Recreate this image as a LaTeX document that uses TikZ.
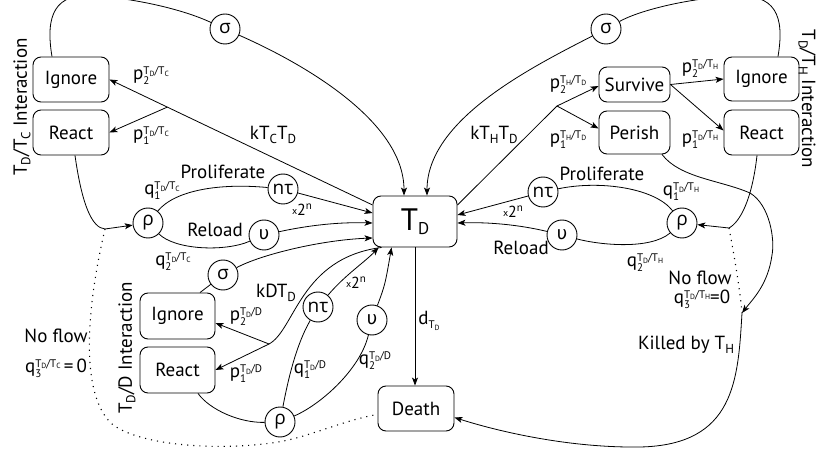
\documentclass[tikz,border=0pt]{standalone}
\usepackage{fontspec}
\setmainfont{PT Sans}
\newfontfamily\grk{Open Sans}
\newfontfamily\grku{DejaVu Sans}
\usetikzlibrary{arrows.meta,calc}
\newcommand\fs[1]{\fontsize{#1}{#1}\selectfont}
\newcommand\tsub[1]{\raisebox{-1.4pt}{\fs{7.5}#1}}
\newcommand\TT[1]{T\tsub{#1}}
\newcommand\pq[3]{#1\rlap{\raisebox{-5pt}{\fs{11}#2}}\raisebox{5pt}{\fs{11}#3}}
\newcommand\msub[1]{\raisebox{-3.5pt}{\fs{13}#1}}
\newcommand\xtn{\raisebox{1.5pt}{\fs{10}x}{\fs{16}2}\raisebox{6pt}{\fs{11}n}}
\begin{document}
\begin{tikzpicture}[x=1pt,y=-1pt,font=\fs{19},
  ln/.style={line width=0.8pt},
  arr/.style={line width=0.8pt,-{Stealth[length=8pt,width=6pt,inset=2pt]}},
  dotl/.style={line width=1.1pt,dash pattern=on 1.1pt off 5pt},
  box/.style={draw,line width=0.9pt,rounded corners=8pt,inner sep=0pt},
  circ/.style={draw,circle,line width=0.9pt,minimum size=30pt,inner sep=0pt,font=\fs{19}\grk},
  ucirc/.style={circ,font=\fs{18}\grku},
  lab/.style={inner sep=0pt}]
\useasboundingbox (0,0) rectangle (817,457);
\clip (0,0) rectangle (817,457);
% boxes
\node[box,minimum width=84pt,minimum height=51pt] (TD) at (415,221.5) {\fs{31}T\raisebox{-4pt}{\fs{17}D}};
\node[box,minimum width=76pt,minimum height=45pt] (De) at (416,408.5) {Death};
\node[box,minimum width=76pt,minimum height=45pt] (IgL) at (71,79.5) {Ignore};
\node[box,minimum width=76pt,minimum height=45pt] (ReL) at (71,132.5) {React};
\node[box,minimum width=75pt,minimum height=46pt] (IgD) at (177.5,316) {Ignore};
\node[box,minimum width=75pt,minimum height=46pt] (ReD) at (177.5,370) {React};
\node[box,minimum width=71pt,minimum height=35pt] (Su) at (634.5,84.5) {Survive};
\node[box,minimum width=71pt,minimum height=43pt] (Pe) at (634.5,132.5) {Perish};
\node[box,minimum width=75pt,minimum height=44pt] (IgR) at (761.5,79) {Ignore};
\node[box,minimum width=75pt,minimum height=45pt] (ReR) at (761.5,132.5) {React};
% circles
\node[circ] (sL) at (225,29) {σ};
\node[circ] (sR) at (606,29) {σ};
\node[circ] (sD) at (223,275) {σ};
\node[circ] (rL) at (148,223) {ρ};
\node[circ] (rR) at (682,223) {ρ};
\node[circ] (rD) at (280,422) {ρ};
\node[circ] (nL) at (283,189) {nτ};
\node[circ] (nR) at (543,192) {nτ};
\node[circ] (nD) at (318,307) {nτ};
\node[ucirc] (uL) at (264,235) {υ};
\node[ucirc] (uR) at (562,235) {υ};
\node[ucirc] (uD) at (372,320) {υ};
% top loops
\draw[ln] ($(IgL.north)+(-19,0)$) .. controls (45,15) and (55,-8) .. (95,-4) .. controls (130,-2) and (180,8) .. (sL);
\draw[arr] (sL) .. controls (300,62) and (404,120) .. ($(TD.north)+(-11,0)$);
\draw[ln] ($(IgR.north)+(16.5,0)$) .. controls (785,15) and (775,-6) .. (735,-4) .. controls (690,-2) and (640,10) .. (sR);
\draw[arr] (sR) .. controls (530,68) and (427,120) .. ($(TD.north)+(12,0)$);
% kTcTd
\coordinate (kc0) at ($(TD.west)+(0,-16.5)$);
\coordinate (kcb) at ($(kc0)!0.78!(IgL.east)$);
\draw[arr] (kc0) -- (IgL.east);
\draw[arr] (kcb) -- (ReL.east);
% kThTd
\coordinate (kh0) at ($(TD.east)+(0,-16.5)$);
\coordinate (khb) at (557,106);
\draw[ln] (kh0) -- (khb);
\draw[arr] (khb) -- ($(Su.west)+(0,1.5)$);
\draw[arr] (khb) -- ($(Pe.west)+(0,-4)$);
\draw[arr] (Su.east) -- (IgR.west);
\draw[arr] (Su.east) -- ($(ReR.west)+(0,-2)$);
% left proliferation / reload
\draw[ln] (rL) .. controls (175,190) and (220,183) .. (nL);
\draw[arr] (nL) -- ($(TD.west)+(0,-8.5)$);
\draw[ln] (rL) .. controls (175,250) and (225,252) .. (uL);
\draw[arr] (uL) .. controls (310,225) and (340,222) .. ($(TD.west)+(0,1.5)$);
% TD/D
\draw[arr] (sD) .. controls (260,255) and (320,240) .. ($(TD.west)+(0,16.5)$);
\draw[ln] ($(IgD.north)+(22.5,0)$) -- (sD);
\coordinate (kd0) at ($(TD.south west)+(9,0)$);
\coordinate (kdb) at (269,344);
\draw[ln] (kd0) .. controls (300,258) and (295,330) .. (kdb);
\draw[arr] (kdb) -- ($(IgD.east)+(0,7)$);
\draw[arr] (kdb) -- (ReD.east);
\draw[ln] ($(ReD.south)+(20.5,0)$) .. controls (210,410) and (240,423) .. (rD);
\draw[ln] (rD) .. controls (288,380) and (296,345) .. (nD);
\draw[arr] (nD) .. controls (345,275) and (365,262) .. ($(TD.south west)+(6,0)$);
\draw[ln] (rD) .. controls (320,405) and (360,370) .. (uD);
\draw[arr] (uD) .. controls (385,285) .. ($(TD.south west)+(19,0)$);
\draw[arr] (TD.south) -- (TD.south |- De.north);
% left junction
\coordinate (jL) at (105,229);
\draw[ln] ($(ReL.south)+(4,0)$) .. controls (82,205) and (92,228) .. (jL);
\draw[arr] (jL) -- (rL);
\draw[dotl] (jL) .. controls (86,310) and (80,395) .. (112,424) .. controls (145,450) and (250,452) .. (300,437) .. controls (330,428) and (355,418) .. ($(De.west)+(0,6)$);
% right side
\coordinate (jR) at (729,228);
\draw[ln] ($(ReR.south)+(-4.5,0)$) .. controls (752,200) and (740,222) .. (jR);
\draw[arr] (jR) -- (rR);
\draw[ln] (rR) .. controls (655,188) and (600,180) .. (nR);
\draw[arr] (nR) -- ($(TD.east)+(0,-6.5)$);
\draw[ln] (rR) .. controls (650,250) and (600,245) .. (uR);
\draw[arr] (uR) .. controls (520,225) and (490,222) .. ($(TD.east)+(0,1.5)$);
\coordinate (kR) at (742,313);
\draw[arr] ($(Pe.south)+(27.5,0)$) .. controls (680,178) and (720,180) .. (750,193) .. controls (770,205) and (775,240) .. (772,255) .. controls (768,285) and (752,300) .. (kR);
\draw[dotl] (jR) .. controls (735,260) and (740,290) .. (kR);
\draw[arr] (kR) .. controls (738,380) and (735,445) .. (640,447) .. controls (570,448) and (500,432) .. ($(De.east)+(0,9)$);
% labels
\node[lab] (l1) at (151,76) {\pq{p}{2}{\TT{D}/\TT{C}}};
\node[lab] (l2) at (151,136) {\pq{p}{1}{\TT{D}/\TT{C}}};
\node[lab] (l3) at (273,135) {kT\msub{C}T\msub{D}};
\node[lab] (l4) at (494,135) {kT\msub{H}T\msub{D}};
\node[lab] (l5) at (568,85) {\pq{p}{2}{\TT{H}/\TT{D}}};
\node[lab] (l6) at (568,140) {\pq{p}{1}{\TT{H}/\TT{D}}};
\node[lab] (l7) at (700,69) {\pq{p}{2}{\TT{D}/\TT{H}}};
\node[lab] (l8) at (700,140) {\pq{p}{1}{\TT{D}/\TT{H}}};
\node[lab] (l9) at (162,191) {\pq{q}{1}{\TT{D}/\TT{C}}};
\node[lab] (l10) at (223,172) {Proliferate};
\node[lab] (l11) at (215,230) {Reload};
\node[lab] (l12) at (173,262) {\pq{q}{2}{\TT{D}/\TT{C}}};
\node[lab] (l13) at (302,210) {\xtn};
\node[lab] (l14) at (276,293) {kDT\msub{D}};
\node[lab] (l15) at (246,317) {\pq{p}{2}{\TT{D}/D}};
\node[lab] (l16) at (246,374) {\pq{p}{1}{\TT{D}/D}};
\node[lab] (l17) at (310,370) {\pq{q}{1}{\TT{D}/D}};
\node[lab] (l18) at (375,361) {\pq{q}{2}{\TT{D}/D}};
\node[lab] (l19) at (356,283) {\xtn};
\node[lab] (l20) at (429,321) {d\raisebox{-4pt}{\fs{11}\TT{D}}};
\node[lab] (l21) at (513,212) {\xtn};
\node[lab] (l22) at (521,248) {Reload};
\node[lab] (l23) at (602,174) {Proliferate};
\node[lab] (l24) at (681,192) {\pq{q}{1}{\TT{D}/\TT{H}}};
\node[lab] (l25) at (645,263) {\pq{q}{2}{\TT{D}/\TT{H}}};
\node[lab] (l26) at (700,278) {No flow};
\node[lab] (l27) at (702,299) {\pq{q}{3}{\TT{D}/\TT{H}}=0};
\node[lab] (l28) at (686,345) {Killed by T\msub{H}};
\node[lab] (l29) at (56,336) {No flow};
\node[lab] (l30) at (56,368) {\pq{q}{3}{\TT{D}/\TT{C}}\,=\,0};
\node[lab,rotate=90] (l31) at (22,107) {T\msub{D}/T\msub{C} Interaction};
\node[lab,rotate=-90] (l32) at (807,99) {T\msub{D}/T\msub{H} Interaction};
\node[lab,rotate=90] (l33) at (127,348) {T\msub{D}/D Interaction};
\end{tikzpicture}
\end{document}
